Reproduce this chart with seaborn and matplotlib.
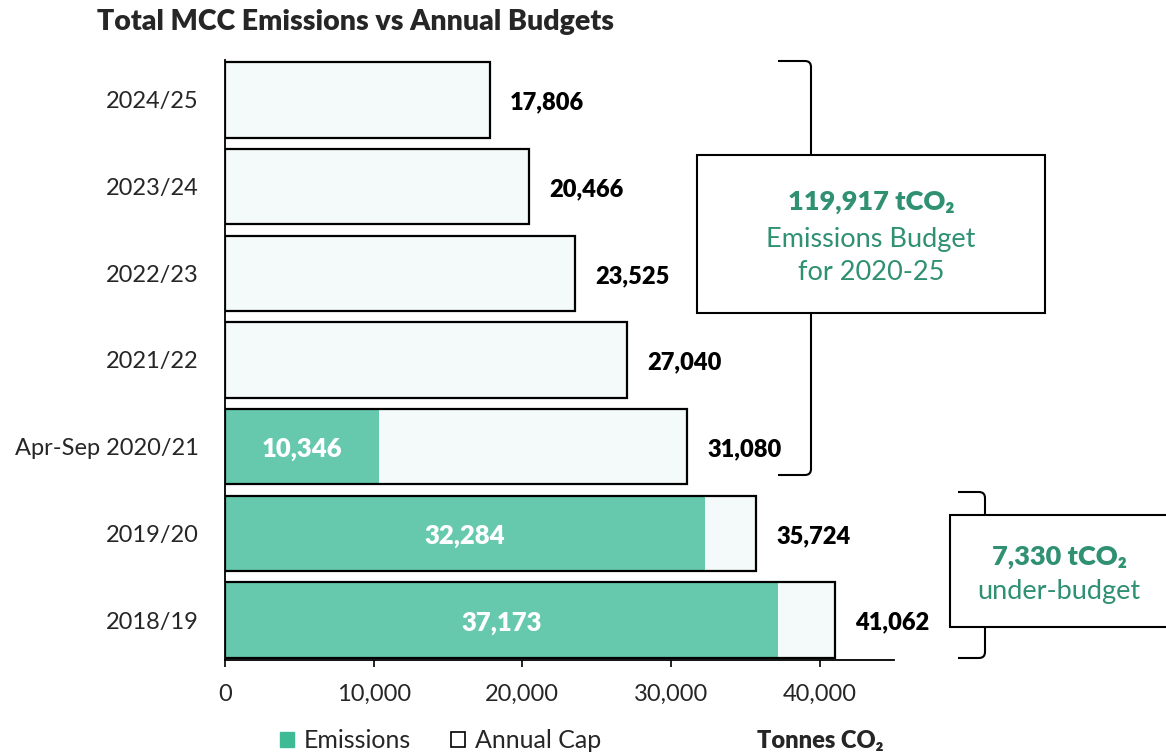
import pandas as pd
import matplotlib.pyplot as plt
import seaborn as sns
from matplotlib.patches import Patch, Rectangle
from matplotlib.path import Path
from matplotlib.patches import PathPatch

# Data
years = ['2024/25', '2023/24', '2022/23', '2021/22', 'Apr-Sep 2020/21', '2019/20', '2018/19']
annual_cap = [17806, 20466, 23525, 27040, 31080, 35724, 41062]
em_years = ['Apr-Sep 2020/21', '2019/20', '2018/19']
emissions = [10346, 32284, 37173]

budget_text = ['119,917 tCO₂', 'Emissions Budget', 'for 2020-25']
under_text = ['7,330 tCO₂', 'under-budget']

cap_df = pd.DataFrame({'year': years, 'cap': annual_cap})
em_df = pd.DataFrame({'year': em_years, 'emissions': emissions})

sns.set_theme(style='white')
plt.rcParams['font.family'] = ['Lato', 'DejaVu Sans']

TEAL = '#66C9AD'
CAP_FILL = '#F3FAF9'
GREEN_TXT = '#2F9072'
W, H = 1166, 753

fig = plt.figure(figsize=(W / 100, H / 100), dpi=100)
ax = fig.add_axes([225 / W, 1 - 660 / H, (894 - 225) / W, (660 - 60) / H])

# cap bars (filled), emissions on top, then cap outlines
sns.barplot(data=cap_df, x='cap', y='year', order=years, color=CAP_FILL,
            width=0.87, linewidth=0, saturation=1, ax=ax)
sns.barplot(data=em_df, x='emissions', y='year', order=years, color=TEAL,
            width=0.87, linewidth=0, saturation=1, ax=ax)
sns.barplot(data=cap_df, x='cap', y='year', order=years, color='black',
            width=0.87, fill=False, linewidth=1.6, ax=ax)

ax.set_xlim(0, 45000)
ax.set_ylim(6.46, -0.46)
ax.set_xticks([0, 10000, 20000, 30000, 40000])
ax.set_xticklabels([f'{v:,}' for v in [0, 10000, 20000, 30000, 40000]], fontsize=17)
ax.tick_params(axis='y', labelsize=17, length=0, pad=19)
ax.tick_params(axis='x', length=5, width=1.2, color='black', bottom=True, pad=12)
ax.set_xlabel('')
ax.set_ylabel('')
for s in ['top', 'right']:
    ax.spines[s].set_visible(False)
for s in ['left', 'bottom']:
    ax.spines[s].set_color('black')
    ax.spines[s].set_linewidth(1.3)

# value labels
for i, v in enumerate(annual_cap):
    ax.text(v + 1350, i + 0.03, f'{v:,}', ha='left', va='center',
            fontsize=17, fontweight='heavy', color='black')
for y, v in zip(em_years, emissions):
    i = years.index(y)
    ax.text(v / 2, i + 0.03, f'{v:,}', ha='center', va='center',
            fontsize=18.5, fontweight='heavy', color='white')

fig.text(97 / W, 1 - 22 / H, 'Total MCC Emissions vs Annual Budgets',
         fontsize=20.5, fontweight='heavy', ha='left', va='center')


def fx(px):
    return px / W


def fy(py):
    return 1 - py / H


def bracket(x0, x1, y0, y1):
    r = 6
    verts = [(x0, y0), (x1 - r, y0), (x1, y0), (x1, y0 + r),
             (x1, y1 - r), (x1, y1), (x1 - r, y1), (x0, y1)]
    codes = [Path.MOVETO, Path.LINETO, Path.CURVE3, Path.CURVE3,
             Path.LINETO, Path.CURVE3, Path.CURVE3, Path.LINETO]
    verts = [(fx(a), fy(b)) for a, b in verts]
    fig.add_artist(PathPatch(Path(verts, codes), fill=False, lw=1.5,
                             edgecolor='black', transform=fig.transFigure, zorder=1))


def box(x0, x1, y0, y1):
    fig.add_artist(Rectangle((fx(x0), fy(y1)), fx(x1) - fx(x0), fy(y0) - fy(y1),
                             facecolor='white', edgecolor='black', lw=1.5,
                             transform=fig.transFigure, zorder=2))


bracket(778, 811, 61, 475)
box(697, 1045, 155, 313)
fig.text(fx(871), fy(202), budget_text[0], fontsize=19.5, fontweight='heavy',
         color=GREEN_TXT, ha='center', va='center', zorder=3)
fig.text(fx(871), fy(239), budget_text[1], fontsize=19.5,
         color=GREEN_TXT, ha='center', va='center', zorder=3)
fig.text(fx(871), fy(273), budget_text[2], fontsize=19.5,
         color=GREEN_TXT, ha='center', va='center', zorder=3)

bracket(958, 985, 492, 658)
box(950, 1172, 515, 627)
fig.text(fx(1059), fy(557), under_text[0], fontsize=19.5, fontweight='heavy',
         color=GREEN_TXT, ha='center', va='center', zorder=3)
fig.text(fx(1059), fy(591), under_text[1], fontsize=19.5,
         color=GREEN_TXT, ha='center', va='center', zorder=3)

# legend
handles = [Patch(facecolor='#3DBB94', edgecolor='#3DBB94', label='Emissions'),
           Patch(facecolor='white', edgecolor='black', lw=1.2, label='Annual Cap')]
fig.legend(handles=handles, loc='center left', bbox_to_anchor=(fx(270), fy(741)),
           ncol=2, frameon=False, fontsize=18, handlelength=0.55, handleheight=0.55,
           handletextpad=0.4, columnspacing=1.6, borderaxespad=0)
fig.text(fx(757), fy(741), 'Tonnes CO₂', fontsize=17, fontweight='heavy',
         ha='left', va='center')

fig.savefig('out.png', dpi=100)
